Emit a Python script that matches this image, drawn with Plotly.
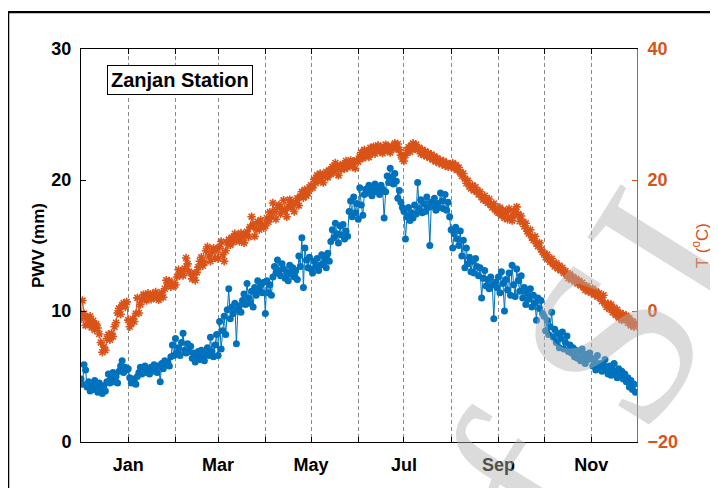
import plotly.graph_objects as go
import pandas as pd

# ---------------- data (daily values, Dec 2014 - Nov 2015) ----------------
pwv_dec = [4.8, 4.4, 5.9, 5.5, 4.2, 4.6, 3.9, 4.4, 4.0, 4.7, 4.3, 3.8, 4.5, 4.1, 3.7, 4.3,
           3.9, 4.6, 5.2, 4.5, 4.8, 5.3, 4.6, 5.0, 4.5, 5.4, 5.8, 6.2, 5.3, 5.7, 5.5]
pwv_jan = [5.6, 4.9, 4.5, 4.8, 4.6, 4.4, 5.0, 5.3, 5.7, 5.2, 5.5, 5.8, 5.3, 5.6, 5.2, 5.7,
           5.4, 5.9, 5.5, 5.3, 5.8, 4.6, 6.0, 5.6, 6.2, 5.9, 6.1, 5.8, 6.5, 7.4, 6.6]
pwv_feb = [7.9, 6.8, 7.2, 6.6, 7.6, 8.3, 7.0, 6.8, 7.5, 6.9, 7.3, 6.4, 6.8, 6.1, 6.6, 6.9,
           6.3, 7.0, 6.5, 6.2, 6.8, 7.2, 6.6, 8.0, 6.9, 6.5, 7.4, 8.2]
pwv_mar = [6.6, 9.2, 7.1, 8.5, 9.6, 8.2, 10.1, 11.7, 9.4, 10.3, 9.8, 10.6, 7.5, 10.1, 10.4, 9.9,
           10.8, 11.3, 10.5, 12.1, 11.0, 10.6, 11.5, 10.3, 11.8, 11.2, 12.3, 11.6, 12.0, 11.4, 12.2]
pwv_apr = [9.8, 12.3, 11.4, 12.0, 11.2, 12.6, 13.4, 12.9, 13.9, 13.1, 12.7, 13.6, 13.2, 12.5, 13.0,
           12.3, 13.5, 12.8, 13.3, 12.6, 13.1, 12.4, 14.2, 13.4, 15.6, 11.8, 14.8, 13.9, 13.3, 14.1]
pwv_may = [13.2, 12.9, 13.8, 13.4, 14.0, 13.1, 13.5, 14.3, 13.6, 14.0, 13.3, 14.4, 13.8, 15.3, 16.2, 15.6,
           16.7, 15.9, 15.2, 16.5, 15.8, 16.6, 15.5, 16.1, 15.7, 17.6, 18.4, 17.2, 18.7, 17.5, 18.2]
pwv_jun = [17.0, 19.4, 18.1, 17.3, 18.9, 19.3, 19.0, 19.6, 19.2, 18.8, 19.5, 19.7, 19.1, 19.4, 18.9,
           19.6, 19.3, 17.1, 19.1, 20.3, 19.8, 20.9, 20.2, 19.7, 20.5, 19.9, 18.6, 19.2, 18.3, 17.9]
pwv_jul = [17.6, 15.5, 17.2, 17.9, 16.9, 17.5, 17.1, 18.1, 17.4, 19.8, 17.8, 18.5, 17.5, 18.2, 17.6, 18.7,
           17.9, 15.0, 18.3, 18.0, 18.6, 17.7, 18.2, 17.9, 19.0, 18.4, 17.8, 18.9, 17.7, 18.3, 17.2]
pwv_aug = [16.2, 14.8, 15.9, 16.4, 15.5, 15.0, 16.1, 14.2, 15.4, 13.3, 14.8, 13.6, 14.1, 13.0, 13.8, 12.9,
           14.0, 13.4, 12.7, 13.3, 11.0, 12.5, 13.1, 11.9, 12.4, 11.7, 12.6, 12.0, 9.4, 12.2, 11.8]
pwv_sep = [12.6, 11.4, 13.0, 12.1, 10.0, 12.4, 11.6, 12.9, 11.2, 13.5, 12.0, 11.1, 13.2, 12.3, 11.5,
           12.7, 11.0, 11.8, 10.5, 11.4, 10.9, 11.7, 10.3, 11.2, 10.6, 9.3, 11.0, 10.2, 10.8, 9.8]
pwv_oct = [9.6, 8.5, 9.3, 8.2, 8.8, 9.9, 8.0, 8.6, 7.6, 8.3, 7.2, 7.9, 8.4, 7.1, 7.6, 8.1,
           6.9, 7.4, 6.8, 7.2, 6.5, 7.0, 6.4, 6.9, 6.2, 7.1, 6.6, 6.0, 6.7, 6.3, 6.8]
pwv_nov = [6.4, 5.8, 6.2, 5.5, 6.6, 5.7, 6.0, 5.4, 5.9, 6.3, 5.6, 5.2, 5.8, 5.1, 5.5,
           6.0, 5.3, 4.9, 5.6, 5.0, 5.4, 4.8, 5.2, 4.6, 4.9, 4.2, 4.7, 4.0, 4.4, 3.8]

t_dec = [-1.2, 1.6, -0.4, -2.2, -1.0, -1.8, -0.8, -2.5, -1.5, -2.9, -2.0, -2.6, -3.5, -4.8, -6.3, -5.5,
         -6.0, -4.2, -3.6, -4.4, -3.4, -3.9, -2.4, -1.8, -0.3, 0.4, -0.5, 0.9, 1.2, 0.6, 1.4]
t_jan = [-1.4, -2.4, -1.9, -1.2, -1.6, -0.4, 2.0, -0.3, 1.0, 1.8, 2.5, 2.0, 1.6, 2.7, 2.2, 1.8,
         2.6, 2.0, 2.9, 2.4, 1.7, 2.3, 2.8, 2.1, 3.4, 4.7, 4.1, 4.6, 3.7, 4.2, 3.8]
t_feb = [4.0, 5.2, 6.3, 5.6, 6.0, 5.4, 6.5, 8.1, 7.2, 6.0, 5.8, 4.9, 5.5, 4.7, 5.9, 6.7,
         7.6, 8.2, 6.9, 7.4, 9.2, 9.8, 8.4, 7.6, 9.0, 9.6, 8.1, 9.4]
t_mar = [8.0, 9.8, 10.6, 8.6, 7.6, 9.2, 10.4, 10.9, 10.1, 11.2, 10.5, 11.8, 10.9, 11.5, 10.6, 11.9,
         11.2, 10.4, 11.7, 12.1, 11.3, 12.8, 14.4, 13.2, 11.4, 12.6, 13.6, 12.4, 13.9, 13.1, 12.7]
t_apr = [13.0, 14.2, 13.6, 15.1, 14.3, 16.5, 15.2, 14.0, 15.8, 16.2, 14.8, 15.6, 16.9, 15.3, 14.4,
         16.0, 17.0, 15.8, 16.4, 15.2, 16.6, 17.2, 16.1, 17.5, 18.2, 17.3, 18.5, 17.6, 18.0, 18.9]
t_may = [19.2, 18.8, 20.1, 19.5, 20.7, 19.9, 21.0, 20.3, 19.6, 20.8, 21.2, 20.4, 21.5, 20.9, 22.0, 21.3,
         22.6, 21.8, 20.7, 22.2, 21.6, 22.4, 21.7, 22.9, 21.9, 22.5, 23.0, 22.1, 22.8, 21.8, 23.0]
t_jun = [22.8, 23.6, 24.2, 23.3, 24.6, 23.8, 24.4, 23.5, 24.9, 24.2, 25.1, 24.0, 24.6, 25.3, 24.4,
         25.0, 24.1, 24.8, 25.4, 24.5, 25.0, 24.2, 25.2, 24.7, 25.6, 24.9, 25.5, 24.6, 23.8, 23.2]
t_jul = [22.9, 23.8, 24.5, 25.0, 24.3, 25.3, 25.6, 24.8, 25.4, 24.6, 24.9, 24.0, 24.6, 23.8, 24.4, 23.6,
         24.1, 23.4, 23.9, 23.1, 23.6, 22.8, 23.3, 22.6, 23.0, 22.4, 22.9, 22.2, 22.6, 22.0, 22.4]
t_aug = [22.1, 22.6, 21.8, 22.3, 21.5, 21.9, 21.2, 20.6, 21.0, 20.2, 19.5, 19.9, 19.0, 18.7, 19.2, 18.4,
         18.9, 18.3, 17.8, 18.2, 17.4, 17.0, 17.6, 16.8, 16.5, 17.1, 16.2, 15.8, 16.4, 15.5, 15.2]
t_sep = [15.0, 15.8, 14.6, 15.4, 14.2, 15.1, 14.0, 15.6, 14.4, 13.8, 15.2, 14.6, 15.9, 14.8, 13.7,
         14.5, 13.6, 12.9, 13.4, 12.2, 11.8, 12.4, 11.2, 10.8, 11.4, 10.3, 9.9, 10.4, 9.4, 9.0]
t_oct = [8.8, 8.2, 8.6, 7.9, 7.5, 8.0, 7.2, 6.8, 7.3, 6.5, 6.9, 6.2, 6.6, 5.8, 6.1, 5.4,
         5.0, 5.6, 4.8, 5.2, 4.5, 4.9, 4.2, 4.6, 3.9, 4.3, 3.6, 3.2, 3.8, 3.0, 3.4]
t_nov = [2.8, 3.4, 2.5, 3.0, 2.2, 2.7, 2.0, 1.5, 2.4, 1.2, 0.6, 1.1, 0.3, 1.0, -0.2,
         0.5, -0.6, 0.2, -1.0, -0.3, -1.4, -0.5, -1.2, -0.7, -1.8, -1.1, -2.2, -1.6, -2.4, -1.9]

tick_labels = ["Jan", "", "Mar", "", "May", "", "Jul", "", "Sep", "", "Nov"]
pwv_ticks = [0, 10, 20, 30]
t_ticks = [-20, 0, 20, 40]
station = "Zanjan Station"

pwv = (pwv_dec + pwv_jan + pwv_feb + pwv_mar + pwv_apr + pwv_may +
       pwv_jun + pwv_jul + pwv_aug + pwv_sep + pwv_oct + pwv_nov)
temp = (t_dec + t_jan + t_feb + t_mar + t_apr + t_may +
        t_jun + t_jul + t_aug + t_sep + t_oct + t_nov)
dates = pd.date_range("2014-12-01", periods=len(pwv), freq="D")
month_starts = pd.date_range("2015-01-01", "2015-11-01", freq="MS")

BLUE = "#0072BD"
ORANGE = "#D95319"
FONT = "Liberation Sans, Arial, sans-serif"

fig = go.Figure()
fig.add_trace(go.Scatter(
    x=dates, y=pwv, mode="lines+markers", yaxis="y",
    line=dict(color=BLUE, width=1),
    marker=dict(symbol="circle", size=7, color=BLUE),
))
fig.add_trace(go.Scatter(
    x=dates, y=temp, mode="lines+markers", yaxis="y2",
    line=dict(color=ORANGE, width=1),
    marker=dict(symbol="asterisk-open", size=7, color=ORANGE,
                line=dict(width=1.6, color=ORANGE)),
))

# page body adds an 8px offset; margins chosen so the plot box sits at x 81-637, y 49-442
fig.update_layout(
    width=710, height=480,
    margin=dict(l=73, r=81, t=41, b=46),
    paper_bgcolor="white", plot_bgcolor="white",
    showlegend=False,
    font=dict(family=FONT, color="black"),
    xaxis=dict(
        type="date", range=["2014-12-01", "2015-12-01"],
        tickvals=month_starts, ticktext=tick_labels,
        tickfont=dict(size=18, weight="bold", color="black"),
        ticks="inside", ticklen=5, tickcolor="black",
        showline=True, linecolor="black", linewidth=1, mirror="ticks",
        showgrid=True, gridcolor="#8a8a8a", griddash="4px,3px", gridwidth=1,
        zeroline=False, ticklabelstandoff=6, automargin=False,
    ),
    yaxis=dict(
        range=[0, 30], tickvals=pwv_ticks,
        tickfont=dict(size=18, weight="bold", color="black"),
        ticks="inside", ticklen=5, tickcolor="black",
        showline=True, linecolor="black", linewidth=1,
        showgrid=False, zeroline=False, ticklabelstandoff=5, automargin=False,
        title=dict(text="PWV (mm)", font=dict(size=17, weight="bold", color="black"), standoff=2),
    ),
    yaxis2=dict(
        range=[-20, 40], tickvals=t_ticks, overlaying="y", side="right",
        tickfont=dict(size=18, weight="bold", color=ORANGE),
        ticks="inside", ticklen=5, tickcolor=ORANGE,
        showline=True, linecolor=ORANGE, linewidth=1,
        showgrid=False, zeroline=False, ticklabelstandoff=6, automargin=False,
        title=dict(text="T (<sup>o</sup>C)", font=dict(size=17, color=ORANGE), standoff=18),
    ),
)

# station label box
fig.add_annotation(
    text="<b>" + station + "</b>", xref="paper", yref="paper",
    x=0.178, y=0.92, xanchor="center", yanchor="middle", showarrow=False,
    font=dict(size=20, family=FONT, color="black"),
    bgcolor="white", bordercolor="black", borderwidth=1, borderpad=3,
)

# outer frame of the scanned figure
fig.add_shape(type="rect", xref="paper", yref="paper",
              x0=-0.131, y0=-0.15, x1=1.16, y1=1.094,
              line=dict(color="black", width=2.2), fillcolor="rgba(0,0,0,0)")

# faint watermark from the source page
fig.add_annotation(
    text="of SI", xref="paper", yref="paper", x=0.87, y=0.06,
    xanchor="center", yanchor="middle",
    showarrow=False, textangle=-58,
    font=dict(size=240, family="Liberation Serif, Times New Roman, serif",
              color="rgba(175,175,175,0.45)"),
)

fig.write_html("out.html")
